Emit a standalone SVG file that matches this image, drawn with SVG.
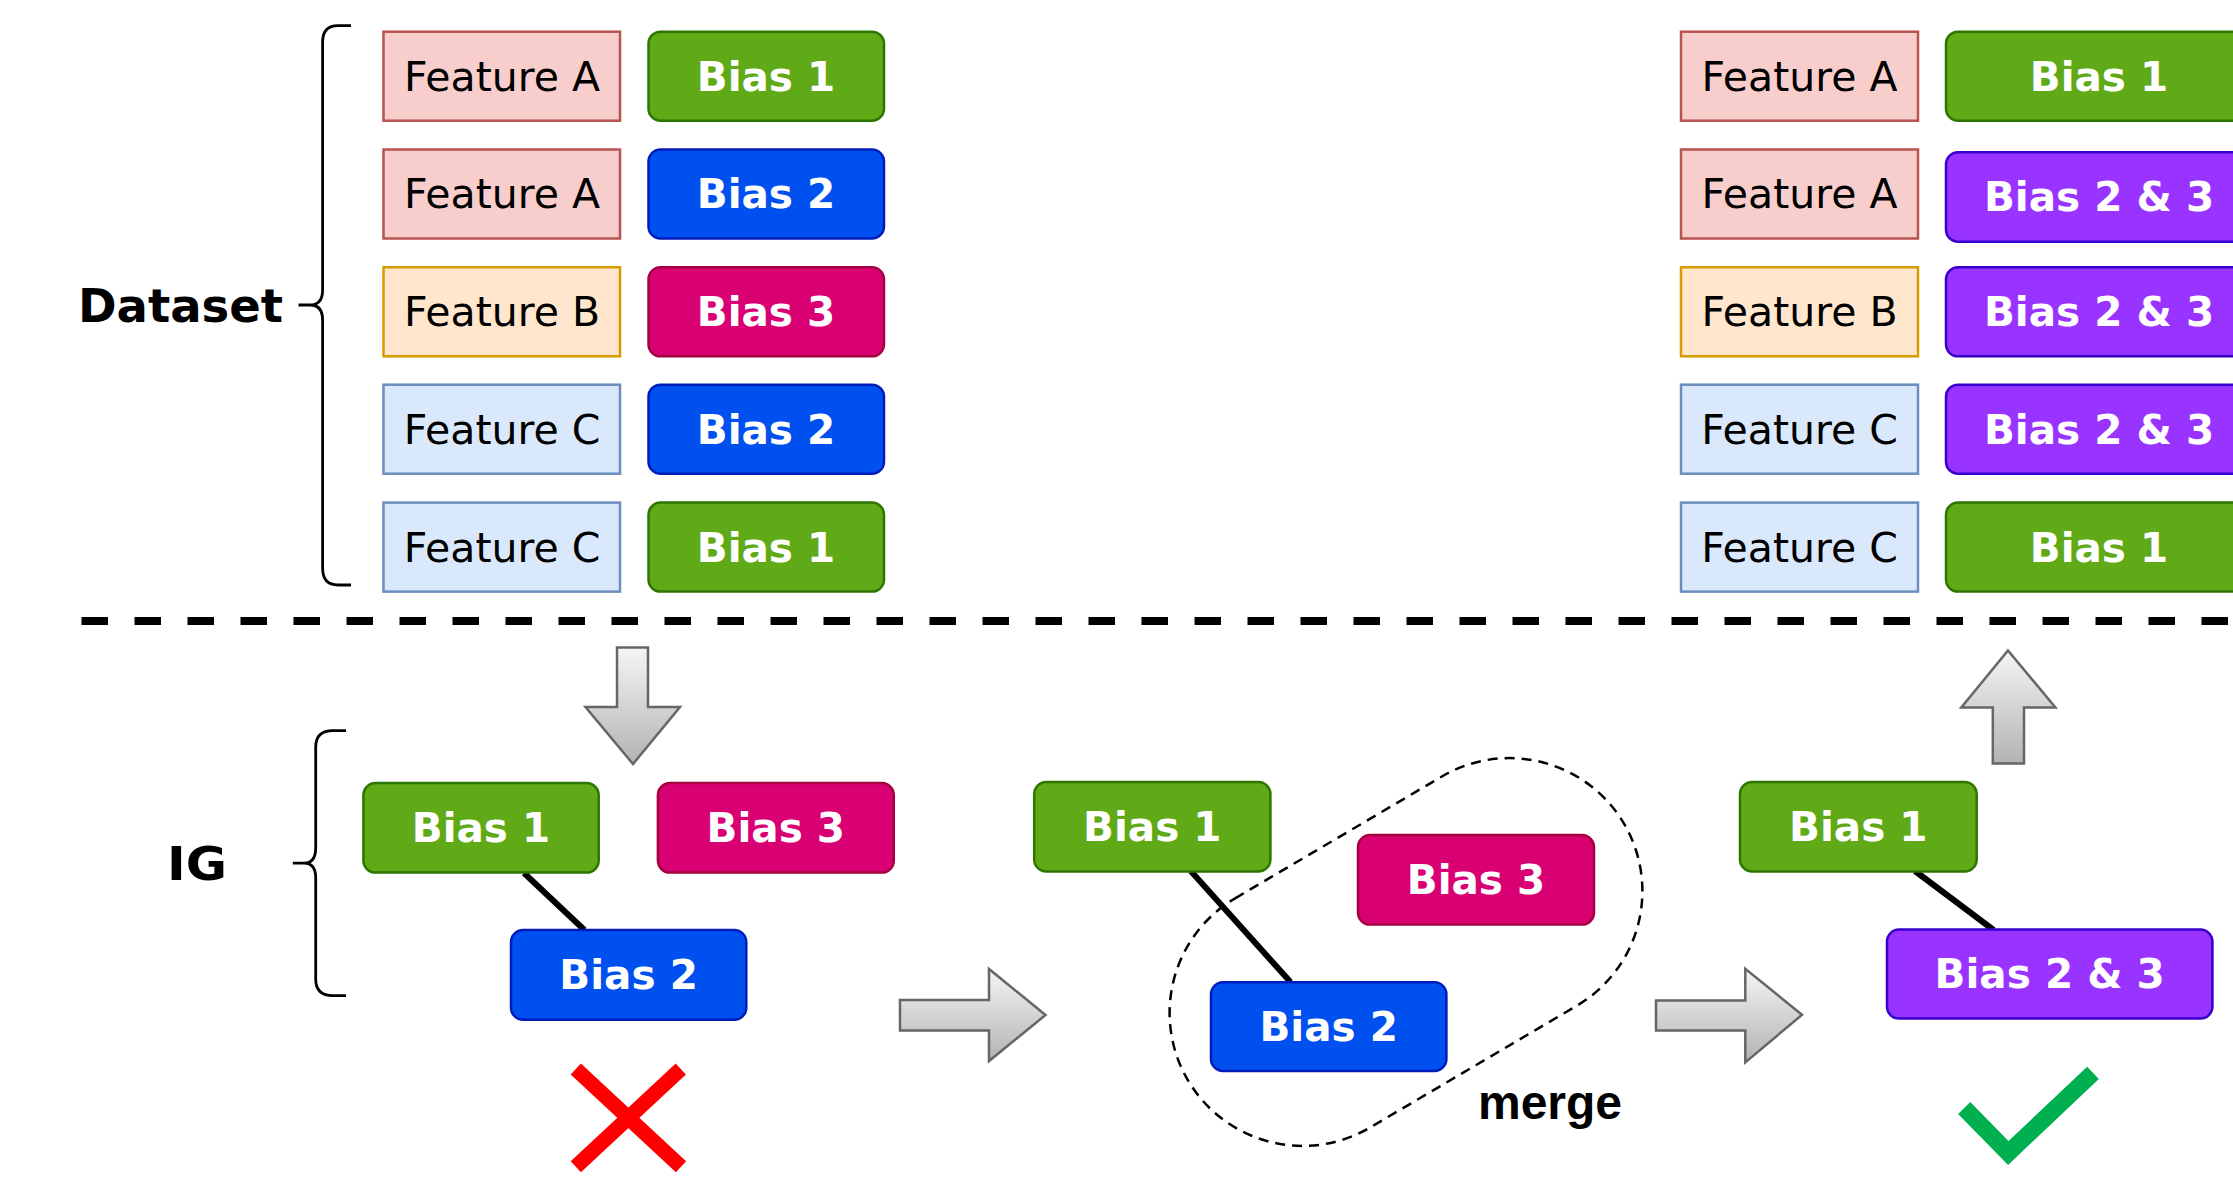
<svg xmlns="http://www.w3.org/2000/svg" width="2233" height="1187" viewBox="0 0 2233 1187">
<style>
.feat{font-family:"DejaVu Sans",Verdana,sans-serif;font-size:41px;fill:#000;text-anchor:middle}
.bias{font-family:"DejaVu Sans",Verdana,sans-serif;font-size:40.5px;font-weight:bold;fill:#fff;text-anchor:middle}
.lbl{font-family:"DejaVu Sans",Verdana,sans-serif;font-size:46.5px;font-weight:bold;fill:#000;text-anchor:middle}
.fa{fill:#f8cecc;stroke:#b85450;stroke-width:2.5}
.fb{fill:#ffe6cc;stroke:#d79b00;stroke-width:2.5}
.fc{fill:#dae8fc;stroke:#6c8ebf;stroke-width:2.5}
.b1{fill:#60a917;stroke:#2d7600;stroke-width:2.5}
.b2{fill:#0050ef;stroke:#001dbc;stroke-width:2.5}
.b3{fill:#d80073;stroke:#a50040;stroke-width:2.5}
.b23{fill:#9933ff;stroke:#3700cc;stroke-width:2.5}
.arrow{fill:url(#grad);stroke:#666;stroke-width:2.5}
.edge{stroke:#000;stroke-width:6;fill:none}
.brace{fill:none;stroke:#000;stroke-width:2.8}
</style>
<defs>
<linearGradient id="grad" x1="0" y1="0" x2="0" y2="1">
<stop offset="0" stop-color="#f5f5f5"/>
<stop offset="1" stop-color="#b3b3b3"/>
</linearGradient>
</defs>
<rect width="2233" height="1187" fill="#fff"/>

<g id="labels">
<text class="lbl" x="180.5" y="322">Dataset</text>
<text class="lbl" x="197" y="880" textLength="60" lengthAdjust="spacingAndGlyphs">IG</text>
<text x="1550" y="1119" style="font-family:'Liberation Sans',Arial,sans-serif;font-size:48px;font-weight:bold;fill:#000;text-anchor:middle">merge</text>
</g>

<g id="braces">
<path class="brace" d="M351,25.7 L338,25.7 Q322.6,25.7 322.6,42 L322.6,290 Q322.6,305 310,305 L298.5,305 M310,305 Q322.6,305 322.6,320 L322.6,568 Q322.6,585 338,585 L351,585"/>
<path class="brace" d="M346,730.7 L333,730.7 Q315.7,730.7 315.7,747 L315.7,848 Q315.7,863.2 304,863.2 L292.8,863.2 M304,863.2 Q315.7,863.2 315.7,878 L315.7,979 Q315.7,995.7 333,995.7 L346,995.7"/>
</g>

<g id="separator">
<line x1="81.5" y1="621" x2="2233" y2="621" stroke="#000" stroke-width="8" stroke-dasharray="26.5 26.5"/>
</g>

<g id="dataset-left">
<g id="dl-f1"><rect class="fa" x="383.5" y="31.7" width="236.5" height="89"/><text class="feat" x="502" y="90.6">Feature A</text></g>
<g id="dl-b1"><rect class="b1" x="648.5" y="31.7" width="235.5" height="89" rx="12"/><text class="bias" x="766" y="90.6">Bias 1</text></g>
<g id="dl-f2"><rect class="fa" x="383.5" y="149.5" width="236.5" height="89"/><text class="feat" x="502" y="208.4">Feature A</text></g>
<g id="dl-b2"><rect class="b2" x="648.5" y="149.5" width="235.5" height="89" rx="12"/><text class="bias" x="766" y="208.4">Bias 2</text></g>
<g id="dl-f3"><rect class="fb" x="383.5" y="267.3" width="236.5" height="89"/><text class="feat" x="502" y="326.2">Feature B</text></g>
<g id="dl-b3"><rect class="b3" x="648.5" y="267.3" width="235.5" height="89" rx="12"/><text class="bias" x="766" y="326.2">Bias 3</text></g>
<g id="dl-f4"><rect class="fc" x="383.5" y="384.7" width="236.5" height="89"/><text class="feat" x="502" y="443.6">Feature C</text></g>
<g id="dl-b4"><rect class="b2" x="648.5" y="384.7" width="235.5" height="89" rx="12"/><text class="bias" x="766" y="443.6">Bias 2</text></g>
<g id="dl-f5"><rect class="fc" x="383.5" y="502.6" width="236.5" height="89"/><text class="feat" x="502" y="561.5">Feature C</text></g>
<g id="dl-b5"><rect class="b1" x="648.5" y="502.6" width="235.5" height="89" rx="12"/><text class="bias" x="766" y="561.5">Bias 1</text></g>
</g>

<g id="dataset-right">
<g id="dr-f1"><rect class="fa" x="1681" y="31.7" width="237" height="89"/><text class="feat" x="1799.5" y="90.6">Feature A</text></g>
<g id="dr-b1"><rect class="b1" x="1946" y="31.7" width="306" height="89" rx="12"/><text class="bias" x="2099" y="90.6">Bias 1</text></g>
<g id="dr-f2"><rect class="fa" x="1681" y="149.5" width="237" height="89"/><text class="feat" x="1799.5" y="208.4">Feature A</text></g>
<g id="dr-b2"><rect class="b23" x="1946" y="152.3" width="306" height="89.4" rx="12"/><text class="bias" x="2099" y="211.4">Bias 2 &amp; 3</text></g>
<g id="dr-f3"><rect class="fb" x="1681" y="267.3" width="237" height="89"/><text class="feat" x="1799.5" y="326.2">Feature B</text></g>
<g id="dr-b3"><rect class="b23" x="1946" y="267.3" width="306" height="89" rx="12"/><text class="bias" x="2099" y="326.2">Bias 2 &amp; 3</text></g>
<g id="dr-f4"><rect class="fc" x="1681" y="384.7" width="237" height="89"/><text class="feat" x="1799.5" y="443.6">Feature C</text></g>
<g id="dr-b4"><rect class="b23" x="1946" y="384.7" width="306" height="89" rx="12"/><text class="bias" x="2099" y="443.6">Bias 2 &amp; 3</text></g>
<g id="dr-f5"><rect class="fc" x="1681" y="502.6" width="237" height="89"/><text class="feat" x="1799.5" y="561.5">Feature C</text></g>
<g id="dr-b5"><rect class="b1" x="1946" y="502.6" width="306" height="89" rx="12"/><text class="bias" x="2099" y="561.5">Bias 1</text></g>
</g>

<g id="merge-region">
<rect x="-253" y="-133" width="506" height="266" rx="133" ry="133" transform="translate(1406,952) rotate(-30.5)" fill="none" stroke="#000" stroke-width="2.5" stroke-dasharray="10 7"/>
</g>

<g id="connectors">
<line class="edge" x1="524" y1="873" x2="584.4" y2="930"/>
<line class="edge" x1="1190.8" y1="871" x2="1290.5" y2="982"/>
<line class="edge" x1="1915" y1="871" x2="1993.6" y2="930"/>
</g>

<g id="ig-left">
<g id="il-b1"><rect class="b1" x="363.4" y="783" width="235.3" height="89.6" rx="12"/><text class="bias" x="481" y="842.2">Bias 1</text></g>
<g id="il-b3"><rect class="b3" x="657.9" y="783" width="235.9" height="89.6" rx="12"/><text class="bias" x="775.8" y="842.2">Bias 3</text></g>
<g id="il-b2"><rect class="b2" x="511" y="930" width="235.3" height="89.7" rx="12"/><text class="bias" x="628.6" y="989.2">Bias 2</text></g>
</g>

<g id="ig-mid">
<g id="im-b1"><rect class="b1" x="1034.2" y="782" width="236.2" height="89.4" rx="12"/><text class="bias" x="1152.3" y="841.1">Bias 1</text></g>
<g id="im-b3"><rect class="b3" x="1358" y="835" width="236" height="89.6" rx="12"/><text class="bias" x="1476" y="894.2">Bias 3</text></g>
<g id="im-b2"><rect class="b2" x="1211" y="982.3" width="235.4" height="88.7" rx="12"/><text class="bias" x="1328.7" y="1041.1">Bias 2</text></g>
</g>

<g id="ig-right">
<g id="ir-b1"><rect class="b1" x="1740" y="782" width="236.7" height="89.4" rx="12"/><text class="bias" x="1858.3" y="841.1">Bias 1</text></g>
<g id="ir-b23"><rect class="b23" x="1887" y="929.5" width="325.4" height="89.1" rx="12"/><text class="bias" x="2049.7" y="988.4">Bias 2 &amp; 3</text></g>
</g>

<g id="arrows">
<polygon class="arrow" points="617,647.5 648,647.5 648,707 680,707 633,764 585.5,707 617,707"/>
<polygon class="arrow" points="900,1000 989,1000 989,969 1045.5,1015 989,1061 989,1030.5 900,1030.5"/>
<polygon class="arrow" points="1656,1000.6 1745.3,1000.6 1745.3,968.8 1802,1014.8 1745.3,1062.4 1745.3,1030.5 1656,1030.5"/>
<polygon class="arrow" points="2008,650.5 2055.4,707.4 2024,707.4 2024,763.6 1992.8,763.6 1992.8,707.4 1961.3,707.4"/>
</g>

<g id="marks">
<g id="cross" stroke="#ff0000" stroke-width="15" stroke-linecap="butt">
<line x1="575.8" y1="1069" x2="681" y2="1166.7"/>
<line x1="680.8" y1="1069" x2="575.8" y2="1166.7"/>
</g>
<polyline id="check" points="1964.2,1108 2008.3,1153 2093,1072.8" fill="none" stroke="#00b050" stroke-width="17" stroke-linejoin="miter" stroke-miterlimit="10"/>
</g>
</svg>
